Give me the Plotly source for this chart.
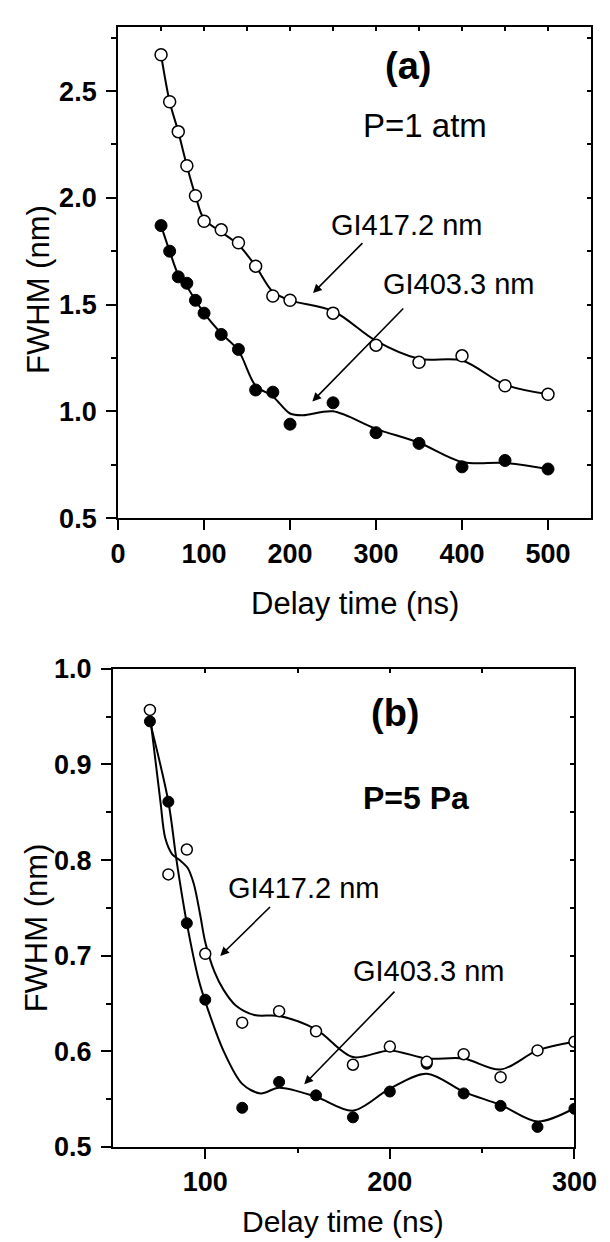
import plotly.graph_objects as go

# ---------------- data: panel (a), P = 1 atm ----------------
x_a = [50, 60, 70, 80, 90, 100, 120, 140, 160, 180, 200, 250, 300, 350, 400, 450, 500]
y_a_4172 = [2.67, 2.45, 2.31, 2.15, 2.01, 1.89, 1.85, 1.79, 1.68, 1.54, 1.52, 1.46, 1.31, 1.23, 1.26, 1.12, 1.08]
y_a_4033 = [1.87, 1.75, 1.63, 1.60, 1.52, 1.46, 1.36, 1.29, 1.10, 1.09, 0.94, 1.04, 0.90, 0.85, 0.74, 0.77, 0.73]

# smoothed curves
fit_x_a_4172 = [50, 60, 70, 80, 90, 100, 120, 140, 160, 180, 200, 250, 300, 350, 400, 450, 500]
fit_y_a_4172 = [2.67, 2.45, 2.31, 2.15, 2.01, 1.90, 1.84, 1.78, 1.68, 1.56, 1.52, 1.47, 1.33, 1.246, 1.238, 1.125, 1.08]
fit_x_a_4033 = [50, 60, 70, 80, 90, 100, 120, 140, 160, 180, 200, 215, 250, 300, 350, 400, 450, 500]
fit_y_a_4033 = [1.87, 1.75, 1.64, 1.585, 1.52, 1.46, 1.365, 1.285, 1.12, 1.07, 0.99, 0.982, 1.0, 0.918, 0.853, 0.763, 0.758, 0.73]

# ---------------- data: panel (b), P = 5 Pa ----------------
x_b = [70, 80, 90, 100, 120, 140, 160, 180, 200, 220, 240, 260, 280, 300]
y_b_4172 = [0.957, 0.785, 0.811, 0.702, 0.630, 0.642, 0.621, 0.586, 0.605, 0.589, 0.597, 0.573, 0.601, 0.610]
y_b_4033 = [0.945, 0.861, 0.734, 0.654, 0.541, 0.568, 0.554, 0.531, 0.558, 0.587, 0.556, 0.543, 0.521, 0.540]

fit_x_b_4172 = [70, 75.7, 78.3, 82.1, 86.1, 90.4, 93.8, 97.3, 100, 105, 110, 116.5, 126.6, 140, 160, 180, 200, 220, 240, 260, 280, 300]
fit_y_b_4172 = [0.952, 0.861, 0.823, 0.806, 0.800, 0.792, 0.775, 0.742, 0.714, 0.683, 0.664, 0.648, 0.638, 0.637, 0.623, 0.594, 0.601, 0.5925, 0.5925, 0.581, 0.601, 0.610]
fit_x_b_4033 = [70, 80, 84.4, 90, 96.4, 100, 110, 120, 130, 140, 160, 180, 200, 220, 240, 260, 280, 300]
fit_y_b_4033 = [0.945, 0.861, 0.800, 0.734, 0.675, 0.652, 0.600, 0.566, 0.556, 0.562, 0.5525, 0.538, 0.561, 0.5766, 0.5577, 0.544, 0.5267, 0.5405]

# tick positions
xticks_a = [0, 100, 200, 300, 400, 500]
xticks_a_top = [0, 50, 100, 150, 200, 250, 300, 350, 400, 450, 500, 550]
yticks_a = [0.5, 1.0, 1.5, 2.0, 2.5]
yminor_a = [0.75, 1.25, 1.75, 2.25, 2.75]
xticks_b = [100, 200, 300]
xminor_b = [150, 250]
yticks_b = [0.5, 0.6, 0.7, 0.8, 0.9, 1.0]
yminor_b = [0.55, 0.65, 0.75, 0.85, 0.95]

FONT = "Liberation Sans, Arial, Helvetica, sans-serif"
BLACK = "#000000"

fig = go.Figure()


def add_panel(xa, ya, fx1, fy1, fx2, fy2, x, y_open, y_fill, msize):
    fig.add_trace(go.Scatter(x=fx1, y=fy1, mode="lines", xaxis=xa, yaxis=ya,
                             line=dict(color=BLACK, width=2, shape="spline", smoothing=0.9),
                             hoverinfo="skip", showlegend=False))
    fig.add_trace(go.Scatter(x=fx2, y=fy2, mode="lines", xaxis=xa, yaxis=ya,
                             line=dict(color=BLACK, width=2, shape="spline", smoothing=0.9),
                             hoverinfo="skip", showlegend=False))
    fig.add_trace(go.Scatter(x=x, y=y_fill, mode="markers", xaxis=xa, yaxis=ya,
                             marker=dict(symbol="circle", size=msize, color=BLACK,
                                         line=dict(color=BLACK, width=1)),
                             name="GI403.3 nm", showlegend=False))
    fig.add_trace(go.Scatter(x=x, y=y_open, mode="markers", xaxis=xa, yaxis=ya,
                             marker=dict(symbol="circle", size=msize, color="white",
                                         line=dict(color=BLACK, width=1.5)),
                             name="GI417.2 nm", showlegend=False))


add_panel("x", "y", fit_x_a_4172, fit_y_a_4172, fit_x_a_4033, fit_y_a_4033,
          x_a, y_a_4172, y_a_4033, 12)
add_panel("x2", "y2", fit_x_b_4172, fit_y_b_4172, fit_x_b_4033, fit_y_b_4033,
          x_b, y_b_4172, y_b_4033, 11)

# invisible traces so the mirror (inner tick) axes are drawn
fig.add_trace(go.Scatter(x=[None], y=[None], xaxis="x3", yaxis="y3", showlegend=False,
                         hoverinfo="skip"))
fig.add_trace(go.Scatter(x=[None], y=[None], xaxis="x4", yaxis="y4", showlegend=False,
                         hoverinfo="skip"))

tickfont = dict(family=FONT, size=27, color=BLACK, weight="bold")
axis_common = dict(showgrid=False, zeroline=False, showline=True, linecolor=BLACK,
                   linewidth=2, mirror=True, ticks="outside", tickcolor=BLACK,
                   tickwidth=2, ticklen=10, tickfont=tickfont)
inner_common = dict(showgrid=False, zeroline=False, showline=False, ticks="inside",
                    ticklen=4, tickwidth=1.5, tickcolor=BLACK, showticklabels=False)

XR_A = [0, 550]
YR_A = [0.5, 2.8]
XR_B = [50, 300]
YR_B = [0.5, 1.0]

fig.update_layout(
    width=610, height=1242,
    margin=dict(l=105, r=4, t=7, b=103),
    paper_bgcolor="white", plot_bgcolor="white",
    font=dict(family=FONT, color=BLACK),
    xaxis=dict(domain=[0.0106, 1.0], range=XR_A, tickvals=xticks_a,
               anchor="y", **axis_common),
    yaxis=dict(domain=[0.5615, 1.0], range=YR_A, tickvals=yticks_a,
               tickformat=".1f", anchor="x", ticklabelstandoff=4,
               minor=dict(tickvals=yminor_a, ticklen=5,
                          tickwidth=1.5, tickcolor=BLACK, ticks="outside"),
               **axis_common),
    xaxis2=dict(domain=[0.0, 0.9653], range=XR_B, tickvals=xticks_b,
                anchor="y2",
                minor=dict(tickvals=xminor_b, ticklen=4, tickwidth=1.5,
                           tickcolor=BLACK, ticks="outside"),
                **axis_common),
    yaxis2=dict(domain=[0.0, 0.4270], range=YR_B,
                tickvals=yticks_b, tickformat=".1f",
                anchor="x2", ticklabelstandoff=4,
                minor=dict(tickvals=yminor_b, ticklen=5,
                           tickwidth=1.5, tickcolor=BLACK, ticks="outside"),
                **axis_common),
    # inner ticks along the top and right frame edges
    xaxis3=dict(overlaying="x", side="top", anchor="y3", range=XR_A,
                tickvals=xticks_a_top, **inner_common),
    yaxis3=dict(overlaying="y", side="right", anchor="x3", range=YR_A,
                tickvals=yticks_a + yminor_a, **inner_common),
    xaxis4=dict(overlaying="x2", side="top", anchor="y4", range=XR_B,
                tickvals=xticks_b + xminor_b, **inner_common),
    yaxis4=dict(overlaying="y2", side="right", anchor="x4", range=YR_B,
                tickvals=yticks_b + yminor_b, **inner_common),
)

anns = []


def txt(x, y, s, size, xref, yref, bold=False, angle=0):
    anns.append(dict(x=x, y=y, xref=xref, yref=yref, text=s, showarrow=False,
                     xanchor="center", yanchor="middle", textangle=angle,
                     font=dict(family=FONT, size=size, color=BLACK,
                               weight="bold" if bold else "normal")))


def arrow(x_head, y_head, x_tail, y_tail, xref, yref):
    anns.append(dict(x=x_head, y=y_head, ax=x_tail, ay=y_tail, xref=xref, yref=yref,
                     axref=xref, ayref=yref, text="", showarrow=True,
                     arrowhead=2, arrowsize=1.1, arrowwidth=1.6, arrowcolor=BLACK,
                     standoff=0, startstandoff=0))


# panel (a)
txt(337.7, 2.616, "(a)", 38, "x", "y", bold=True)
txt(357, 2.338, "P=1 atm", 33, "x", "y")
txt(336.4, 1.874, "GI417.2 nm", 29, "x", "y")
txt(396, 1.597, "GI403.3 nm", 29, "x", "y")
arrow(226.7, 1.554, 285.9, 1.795, "x", "y")
arrow(225.9, 1.046, 333.4, 1.489, "x", "y")

# panel (b)
txt(203.1, 0.954, "(b)", 38, "x2", "y2", bold=True)
txt(214.4, 0.8645, "P=5 Pa", 32, "x2", "y2", bold=True)
txt(153.6, 0.771, "GI417.2 nm", 29, "x2", "y2")
txt(221, 0.6836, "GI403.3 nm", 29, "x2", "y2")
arrow(108.1, 0.6998, 135.9, 0.7525, "x2", "y2")
arrow(153.6, 0.5655, 203.3, 0.664, "x2", "y2")

# axis titles
txt(0.5066, 0.4849, "Delay time (ns)", 31, "paper", "paper")
txt(0.482, -0.0665, "Delay time (ns)", 30, "paper", "paper")
txt(-0.1547, 0.7653, "FWHM (nm)", 31, "paper", "paper", angle=-90)
txt(-0.1597, 0.1958, "FWHM (nm)", 31, "paper", "paper", angle=-90)

fig.update_layout(annotations=anns)

fig.write_html("out.html")
